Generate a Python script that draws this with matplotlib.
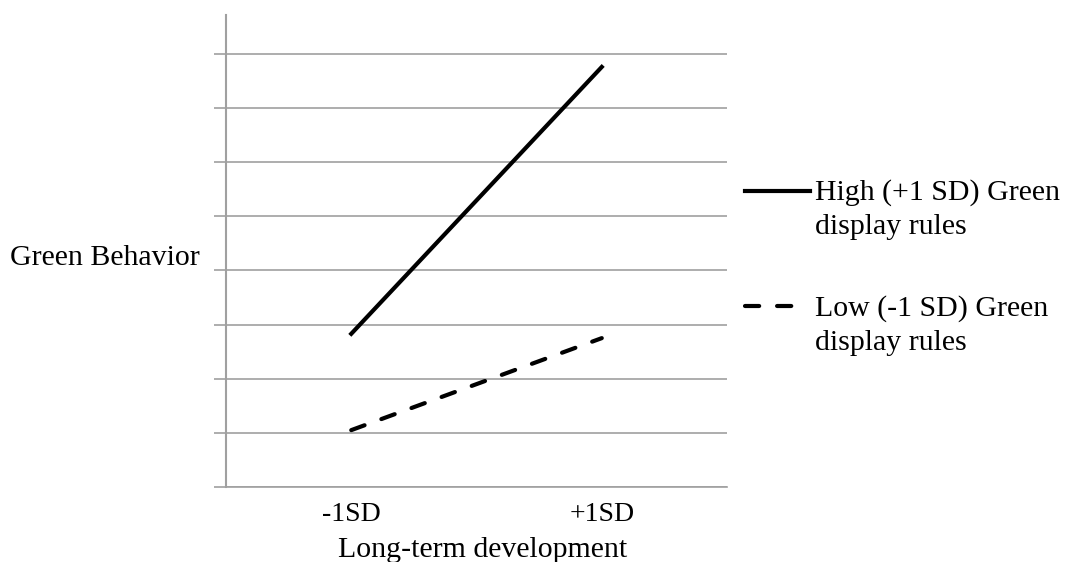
import numpy as np
import matplotlib.pyplot as plt
from matplotlib.legend_handler import HandlerLine2D

# 数据：两个类别上的两条简单斜率线
CATEGORIES = ['-1SD', '+1SD']
HIGH_VALUES = [2.83, 7.76]
LOW_VALUES = [1.05, 2.75]
LABEL_HIGH = 'High (+1 SD) Green\ndisplay rules'
LABEL_LOW = 'Low (-1 SD) Green\ndisplay rules'

plt.rcParams['font.family'] = ['Liberation Serif', 'DejaVu Serif']
plt.rcParams['font.size'] = 20
LABEL_SIZE = 21.5


class FirstLineHandler(HandlerLine2D):
    """图例线条与多行标签的第一行对齐，虚线图例稍短。"""

    def create_artists(self, legend, orig_handle, xdescent, ydescent,
                       width, height, fontsize, trans):
        artists = super().create_artists(legend, orig_handle, xdescent, ydescent,
                                         width, height, fontsize, trans)
        dashed = orig_handle.get_linestyle() != '-'
        for a in artists:
            xd = np.asarray(a.get_xdata(), dtype=float)
            yd = np.asarray(a.get_ydata(), dtype=float) + 0.62 * fontsize
            if dashed:
                xd = xd[0] + 0.73 * (xd - xd[0])
            a.set_data(xd, yd)
        return artists


fig = plt.figure(figsize=(10.69, 5.62), dpi=100)
ax = fig.add_axes([0.2114, 0.1335, 0.4687, 0.8398])

x = list(range(len(CATEGORIES)))
ax.plot(x, HIGH_VALUES, color='black', lw=3, label=LABEL_HIGH)
ax.plot(x, LOW_VALUES, color='black', lw=3, ls=(0, (3.4, 4.3)),
        dash_capstyle='round', label=LABEL_LOW)

ax.set_xlim(-0.5, 1.5)
ax.set_ylim(0, 8.72)
ax.set_xticks(x)
ax.set_xticklabels(CATEGORIES)
ax.set_yticks(range(0, 9))
ax.set_yticklabels([])
ax.grid(axis='y', color='#a0a0a0', lw=1.2)
ax.set_axisbelow(True)

for side in ['top', 'right']:
    ax.spines[side].set_visible(False)
ax.spines['left'].set_color('#a0a0a0')
ax.spines['left'].set_linewidth(1.5)
ax.spines['bottom'].set_color('#a0a0a0')
ax.spines['bottom'].set_linewidth(1.2)
ax.tick_params(axis='y', length=9, width=1.2, color='#a0a0a0')
ax.tick_params(axis='x', length=0, pad=11)

ax.set_xlabel('Long-term development', fontsize=LABEL_SIZE, va='center')
ax.xaxis.set_label_coords(0.512, -0.133)
ax.set_ylabel('Green Behavior', fontsize=LABEL_SIZE, rotation=0, ha='left', va='center')
ax.yaxis.set_label_coords(-0.431, 0.485)

leg = ax.legend(loc='upper left', bbox_to_anchor=(1.036, 0.652), frameon=False,
                fontsize=LABEL_SIZE, handlelength=2.17, handletextpad=0.17,
                labelspacing=1.83, borderaxespad=0, borderpad=0,
                handler_map={plt.Line2D: FirstLineHandler()})
for t in leg.get_texts():
    t.set_linespacing(1.4)

fig.savefig('out.png', dpi=100)
